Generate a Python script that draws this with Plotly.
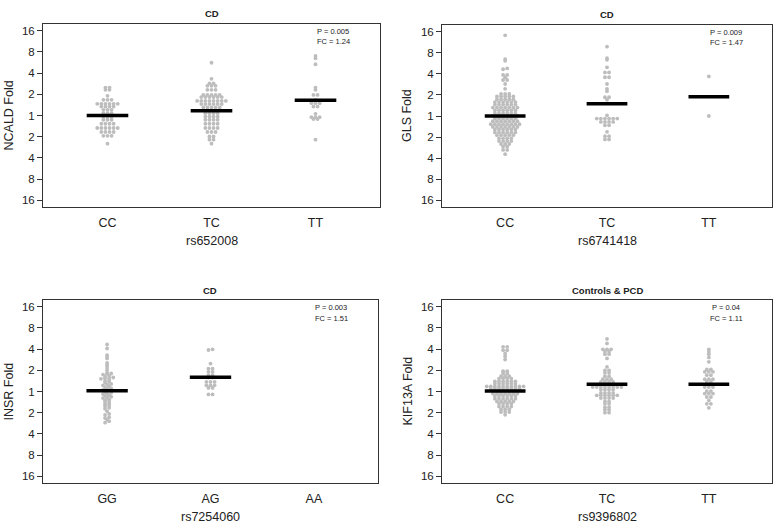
import plotly.graph_objects as go

# ---------------- data (log2 fold values) ----------------
ncald_categories = ["CC", "TC", "TT"]
ncald_cc = [1.32, 1.32, 1.21, 1.21, 0.93, 0.74, 0.74, 0.74, 0.55, 0.55, 0.55, 0.55, 0.55, 0.55,
            0.42, 0.42, 0.42, 0.42, 0.27, 0.27, 0.27, 0.11, 0.11, 0.11, -0.05, -0.05, -0.05,
            -0.2, -0.2, -0.2, -0.39, -0.39, -0.39, -0.39, -0.59, -0.59, -0.59, -0.59, -0.59, -0.59,
            -0.78, -0.78, -0.78, -0.78, -0.96, -0.96, -0.96, -1.33]
ncald_tc = [2.49, 1.73, 1.52, 1.52, 1.4, 1.4, 1.4, 1.21, 1.21, 1.21, 0.97, 0.97, 0.97, 0.97, 0.97,
            0.87, 0.87, 0.87, 0.87, 0.87, 0.87, 0.69, 0.69, 0.69, 0.69, 0.69, 0.69, 0.69, 0.69,
            0.54, 0.54, 0.54, 0.54, 0.54, 0.54, 0.38, 0.38, 0.38, 0.38, 0.38, 0.24, 0.24, 0.24,
            0.11, 0.11, 0.11, 0.11, -0.05, -0.05, -0.05, -0.05, -0.2, -0.2, -0.2, -0.2,
            -0.39, -0.39, -0.39, -0.39, -0.59, -0.59, -0.59, -0.59, -0.78, -0.78, -0.78,
            -0.99, -0.99, -1.14, -1.14, -1.33]
ncald_tt = [2.81, 2.7, 2.42, 1.32, 1.21, 0.97, 0.97, 0.74, 0.58, 0.58, 0.58, 0.42, 0.42, 0.08,
            -0.08, -0.08, -0.08, -0.17, -0.17, -1.14]
ncald_lines = [0.0, 0.22, 0.72]

gls_categories = ["CC", "TC", "TT"]
gls_cc = [3.83, 2.7, 2.62, 2.26, 2.22, 1.95, 1.95, 1.84, 1.71, 1.71, 1.52, 1.29,
          1.05, 1.05, 1.05, 0.93, 0.93, 0.93, 0.93, 0.93, 0.79, 0.79, 0.79, 0.79, 0.79,
          0.66, 0.66, 0.66, 0.66, 0.66, 0.66, 0.54, 0.54, 0.54, 0.54, 0.54, 0.54,
          0.4, 0.4, 0.4, 0.4, 0.4, 0.4, 0.4, 0.27, 0.27, 0.27, 0.27, 0.27, 0.27,
          0.14, 0.14, 0.14, 0.14, 0.14, 0.14, 0.0, 0.0, 0.0, 0.0, 0.0, 0.0, 0.0,
          -0.12, -0.12, -0.12, -0.12, -0.12, -0.12, -0.25, -0.25, -0.25, -0.25, -0.25, -0.25, -0.25,
          -0.39, -0.39, -0.39, -0.39, -0.39, -0.39, -0.39, -0.39,
          -0.52, -0.52, -0.52, -0.52, -0.52, -0.52, -0.52, -0.64, -0.64, -0.64, -0.64, -0.64, -0.64,
          -0.78, -0.78, -0.78, -0.78, -0.78, -0.78, -0.91, -0.91, -0.91, -0.91, -0.91,
          -1.06, -1.06, -1.06, -1.06, -1.19, -1.19, -1.19, -1.19, -1.33, -1.33, -1.33,
          -1.46, -1.46, -1.61, -1.61, -1.81]
gls_tc = [3.29, 2.75, 2.67, 2.31, 2.07, 2.07, 1.84, 1.84, 1.52, 1.29, 1.18, 0.89, 0.89, 0.77,
          0.03, -0.12, -0.12, -0.12, -0.12, -0.12, -0.12, -0.28, -0.28, -0.28, -0.28,
          -0.44, -0.44, -0.75, -0.96, -0.96, -1.11, -1.11]
gls_tt = [1.88, 0.0]
gls_lines = [0.0, 0.58, 0.91]

insr_categories = ["GG", "AG", "AA"]
insr_gg = [2.22, 2.03, 1.72, 1.64, 1.56, 1.35, 1.24, 1.12, 1.0,
           0.88, 0.85, 0.83, 0.8, 0.74, 0.7, 0.66, 0.64, 0.62, 0.6,
           0.53, 0.5, 0.45, 0.42, 0.36, 0.32, 0.29, 0.25,
           0.18, 0.15, 0.12, 0.08, 0.05, -0.02, -0.06, -0.09, -0.12,
           -0.18, -0.21, -0.25, -0.29, -0.31, -0.38, -0.42, -0.45, -0.5,
           -0.55, -0.6, -0.66, -0.7, -0.77, -0.82, -0.93, -1.06, -1.1,
           -1.21, -1.25, -1.34, -1.4, -1.47]
insr_ag = [1.99, 1.96, 1.32, 1.08, 1.08, 0.93, 0.93, 0.77, 0.77, 0.66, 0.66,
           0.45, 0.45, 0.45, 0.29, 0.29, 0.29, 0.17, 0.17, -0.14, -0.14]
insr_aa = []
insr_lines = [0.03, 0.67, None]

kif_categories = ["CC", "TC", "TT"]
kif_cc = [2.11, 2.11, 1.95, 1.95, 1.8, 1.67, 1.51, 0.96, 0.96, 0.85, 0.85, 0.72, 0.72, 0.72,
          0.61, 0.61, 0.61, 0.61, 0.48, 0.48, 0.48, 0.48, 0.48, 0.48, 0.37, 0.37, 0.37, 0.37, 0.37, 0.37,
          0.24, 0.24, 0.24, 0.24, 0.24, 0.24, 0.24, 0.24, 0.24, 0.24,
          0.13, 0.13, 0.13, 0.13, 0.13, 0.13, 0.13, 0.13, 0.02, 0.02, 0.02, 0.02, 0.02, 0.02,
          -0.1, -0.1, -0.1, -0.1, -0.1, -0.1, -0.1, -0.21, -0.21, -0.21, -0.21, -0.21, -0.21,
          -0.34, -0.34, -0.34, -0.34, -0.34, -0.34, -0.47, -0.47, -0.47, -0.47, -0.47,
          -0.58, -0.58, -0.58, -0.58, -0.71, -0.71, -0.71, -0.71, -0.85, -0.85, -0.85,
          -0.97, -0.97, -0.97, -1.1]
kif_tc = [2.48, 2.27, 1.99, 1.99, 1.99, 1.88, 1.88, 1.76, 1.76, 1.56, 1.16, 1.0, 1.0, 0.88, 0.88,
          0.72, 0.72, 0.58, 0.58, 0.58, 0.45, 0.45, 0.45, 0.45, 0.34, 0.34, 0.34,
          0.21, 0.21, 0.21, 0.21, 0.21, 0.21, 0.21, 0.21, 0.09, 0.09, 0.09, 0.09,
          -0.07, -0.07, -0.07, -0.07, -0.18, -0.18, -0.18, -0.18, -0.18, -0.18,
          -0.31, -0.31, -0.31, -0.31, -0.47, -0.47, -0.58, -0.58, -0.74, -0.74, -0.86, -0.86, -1.0, -1.0]
kif_tt = [1.99, 1.88, 1.76, 1.61, 1.4, 1.04, 1.04, 0.93, 0.93, 0.93, 0.77, 0.77, 0.58, 0.58, 0.58,
          0.45, 0.45, 0.34, 0.34, 0.21, 0.21, 0.21, 0.02, 0.02, -0.1, -0.1, -0.1, -0.26, -0.26,
          -0.42, -0.58, -0.58, -0.77]
kif_lines = [0.02, 0.34, 0.34]

y_tickvals = [-4, -3, -2, -1, 0, 1, 2, 3, 4]
y_ticktext = ["16", "8", "4", "2", "1", "2", "4", "8", "16"]

panel_titles = ["CD", "CD", "CD", "Controls & PCD"]
y_titles = ["NCALD Fold", "GLS Fold", "INSR Fold", "KIF13A Fold"]
x_titles = ["rs652008", "rs6741418", "rs7254060", "rs9396802"]
p_texts = ["P = 0.005", "P = 0.009", "P = 0.003", "P = 0.04"]
fc_texts = ["FC = 1.24", "FC = 1.47", "FC = 1.51", "FC = 1.11"]

panels_data = [
    (ncald_categories, [ncald_cc, ncald_tc, ncald_tt], ncald_lines),
    (gls_categories, [gls_cc, gls_tc, gls_tt], gls_lines),
    (insr_categories, [insr_gg, insr_ag, insr_aa], insr_lines),
    (kif_categories, [kif_cc, kif_tc, kif_tt], kif_lines),
]

# ---------------- layout geometry (pixels) ----------------
W, H = 778, 524
boxes = [(43, 380, 24, 207), (442, 772, 25, 207), (43, 378, 300, 483), (442, 772, 300, 483)]
XR = [0.38, 3.62]
YR = [-4.32, 4.32]
DOT_PX = 4.1
FONT = "Arial, 'Liberation Sans', sans-serif"
GREY = "#bdbdbd"
TXT = "#222"


def swarm_offsets(vals, x_unit_px, y_unit_px):
    """Center-style beeswarm: cluster near-equal values into rows, centre each row."""
    order = sorted(range(len(vals)), key=lambda i: vals[i])
    offs = [0.0] * len(vals)
    rows, cur = [], []
    for i in order:
        if cur and (vals[i] - vals[cur[0]]) * y_unit_px > 1.6:
            rows.append(cur)
            cur = []
        cur.append(i)
    if cur:
        rows.append(cur)
    for row in rows:
        n = len(row)
        for k, i in enumerate(row):
            offs[i] = (k - (n - 1) / 2) * DOT_PX / x_unit_px
    return offs


fig = go.Figure()
layout = dict(width=W, height=H, autosize=False, margin=dict(l=0, r=0, t=0, b=0),
              paper_bgcolor="white", plot_bgcolor="white", showlegend=False,
              font=dict(family=FONT, color=TXT))
annotations = []

for p, (cats, groups, lines) in enumerate(panels_data):
    x0, x1, y0, y1 = boxes[p]
    sfx = "" if p == 0 else str(p + 1)
    xa, ya = "x" + sfx, "y" + sfx
    x_unit = (x1 - x0) / (XR[1] - XR[0])
    y_unit = (y1 - y0) / (YR[1] - YR[0])

    xs, ys = [], []
    for c, vals in enumerate(groups):
        offs = swarm_offsets(vals, x_unit, y_unit)
        xs += [c + 1 + o for o in offs]
        ys += list(vals)
    fig.add_trace(go.Scatter(x=xs, y=ys, mode="markers", xaxis=xa, yaxis=ya,
                             marker=dict(size=3.8, color=GREY, line=dict(width=0)),
                             hoverinfo="skip"))
    lx, ly = [], []
    for c, v in enumerate(lines):
        if v is None:
            continue
        lx += [c + 1 - 0.2, c + 1 + 0.2, None]
        ly += [v, v, None]
    fig.add_trace(go.Scatter(x=lx, y=ly, mode="lines", xaxis=xa, yaxis=ya,
                             line=dict(color="black", width=3.5), hoverinfo="skip"))

    layout["xaxis" + sfx] = dict(
        domain=[x0 / W, x1 / W], range=XR, anchor=ya,
        tickvals=[1, 2, 3], ticktext=cats, ticks="outside", ticklen=4,
        tickcolor="rgba(0,0,0,0)", showline=True, mirror=True, linecolor="#333",
        linewidth=1, showgrid=False, zeroline=False,
        tickfont=dict(size=12.5, family=FONT, color=TXT))
    layout["yaxis" + sfx] = dict(
        domain=[1 - y1 / H, 1 - y0 / H], range=YR, anchor=xa,
        tickvals=y_tickvals, ticktext=y_ticktext, ticks="outside", ticklen=5,
        tickcolor="#333", showline=True, mirror=True, linecolor="#333",
        linewidth=1, showgrid=False, zeroline=False,
        tickfont=dict(size=11.5, family=FONT, color=TXT))

    cx = (x0 + x1) / 2
    annotations.append(dict(text="<b>" + panel_titles[p].replace("&", "&amp;") + "</b>",
                            x=cx / W, y=1 - (y0 - 10) / H, xref="paper", yref="paper",
                            showarrow=False, font=dict(size=9.5, family=FONT, color=TXT),
                            xanchor="center", yanchor="middle"))
    annotations.append(dict(text=x_titles[p], x=cx / W, y=1 - (y1 + 34) / H,
                            xref="paper", yref="paper", showarrow=False,
                            font=dict(size=12.5, family=FONT, color=TXT),
                            xanchor="center", yanchor="middle"))
    annotations.append(dict(text=y_titles[p], x=(x0 - 35) / W, y=1 - ((y0 + y1) / 2) / H,
                            xref="paper", yref="paper", showarrow=False, textangle=-90,
                            font=dict(size=12.5, family=FONT, color=TXT),
                            xanchor="center", yanchor="middle"))
    annotations.append(dict(text=p_texts[p], x=3.17, y=3.95, xref=xa, yref=ya,
                            showarrow=False, font=dict(size=7.5, family=FONT, color=TXT),
                            xanchor="center", yanchor="middle"))
    annotations.append(dict(text=fc_texts[p], x=3.17, y=3.47, xref=xa, yref=ya,
                            showarrow=False, font=dict(size=7.5, family=FONT, color=TXT),
                            xanchor="center", yanchor="middle"))

layout["annotations"] = annotations
fig.update_layout(**layout)
# remove the page's default 8px body margin so the figure sits at the window origin
fig.write_html("out.html", config={"displayModeBar": False},
               post_script="document.body.style.margin='0';document.body.style.overflow='hidden';")
